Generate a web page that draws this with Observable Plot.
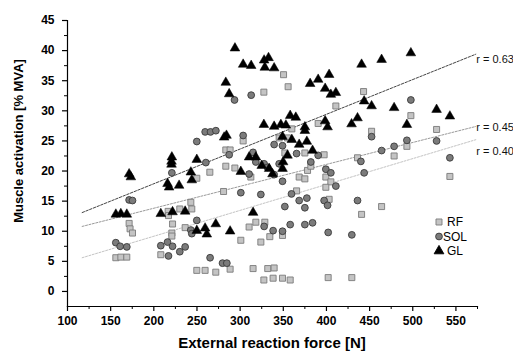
<!DOCTYPE html>
<html>
<head>
<meta charset="utf-8">
<script src="https://cdn.jsdelivr.net/npm/d3@7"></script>
<script src="https://cdn.jsdelivr.net/npm/@observablehq/plot@0.6"></script>
<style>
  html, body { margin: 0; padding: 0; background: #fff; }
  #chart { width: 513px; height: 354px; }
</style>
</head>
<body>
<div id="chart"></div>
<script>
// ---- data ----
const gl_x = [294,303.5,312.8,327.8,332.9,328.6,339.4,283.4,287.3,327.5,281.5,284.2,220.9,249.8,310.4,318.2,
  381.1,390.4,403.1,398.5,405.1,410.9,440.7,463.9,497.8,443.7,452.3,478.4,527.6,543,358,364.5,398.5,401.3,429.1,436,493.2,
  339.4,347.2,353,375,375,349.1,359.9,368.4,377.3,383.9,
  220.5,220.5,242.9,244,300.8,325,171.4,173.4,215.9,217.7,229.3,156,161.8,168.7,208.1,221.7,236.3,249.8,259.4,261.4,271.8,288.4,315,
  354.9,349.8,349.1,333.6,337.5];
const gl_y = [40.4,37.7,37.5,38.4,38.8,37.2,37.1,34.7,32.8,27.7,25.6,25.9,22.3,21.9,22.3,22.3,
  34.5,35.2,36.0,33.7,32.7,33.0,37.7,38.5,39.6,31.6,30.8,30.5,30.2,29.1,29.2,28.9,28.3,27.3,27.8,28.8,27.7,
  27.4,27.7,27.6,27.3,26.7,25.7,25.2,24.4,24.9,23.4,
  21.6,21.1,19.8,18.5,19.9,20.9,19.5,19.0,17.9,17.3,17.6,12.8,12.9,12.8,12.9,13.2,13.3,10.1,10.5,9.5,11.2,10.0,13.1,
  22.6,21.5,20.4,20.4,19.5];

const sol_x = [293.5,312.8,259.5,265.7,271.9,249.8,303.5,315,287.3,
  497.8,452.3,527.6,493.2,463.9,478.4,543,339.4,349.1,365.4,390.4,
  260.3,220.9,310.4,318.2,327.8,331.7,300.8,324,171.4,175.3,156,161,168.7,249.8,242.9,244,327.8,208.1,215.9,221.7,236.3,230.1,217,265.2,279.6,284.6,
  339.4,349.1,345.2,381.9,399.3,405.1,410.9,443.7,439.9,
  359.5,368.4,377.3,351.8,375,397.3,401.3,436,
  338.2,349.1,358,375,383.9,402,429.4];
const sol_y = [31.8,32.6,26.5,26.5,26.7,24.9,25.9,23.1,22.7,
  31.8,25.7,25.0,25.1,23.4,24.1,22.2,24.4,24.2,22.9,22.6,
  21.4,19.7,19.5,21.5,21.2,20.6,16.4,16.1,15.2,15.1,8.1,7.5,7.4,11.8,10.2,9.6,10.8,7.6,8.2,7.5,7.4,6.6,5.9,5.6,4.7,4.7,
  19.4,18.3,21.2,21.5,20.3,19.7,17.5,19.7,21.6,
  16.2,15.1,15.5,14.1,13.9,15.1,14.3,15.1,
  10.1,10.0,11.1,11.1,11.4,9.8,9.4];

const rf_x = [327.5,303.5,283.4,288.4,350.3,355.6,443,410.9,497.8,452.3,527.6,493.2,478.4,359.9,390.4,345.2,354.9,375,397.3,351.8,
  249.8,264.9,283.4,293.9,312.4,280.8,171.4,172.5,175.3,156,161.8,168.7,216.6,217,230.1,242.9,244,221.7,220.9,220.9,236.3,300.8,310.4,318.2,328.6,324,208.1,
  249.8,259.4,271.8,288.4,315,332,327.5,
  378.1,381.9,368.4,375,399.3,405.1,399.3,436,543,365.4,403.1,463.9,440.7,334.4,349.1,339.4,338.2,349.1,358,402,429.4];
const rf_y = [33.1,25.0,23.5,23.5,36.0,34.0,33.2,30.8,29.2,26.6,26.9,24.1,22.5,27.0,27.9,25.5,25.5,23.0,22.7,23.0,
  18.8,19.8,20.8,20.5,19.0,16.6,11.3,10.4,9.7,5.6,5.7,5.7,13.3,12.6,13.7,14.8,13.7,11.2,9.7,9.2,10.6,8.5,10.7,11.5,11.5,8.2,6.1,
  3.5,3.5,3.2,3.7,3.8,3.8,1.9,
  20.1,20.8,19.0,18.7,19.0,18.2,17.3,22.2,19.1,16.7,15.3,14.1,12.8,9.1,9.3,3.9,2.2,2.2,1.9,2.3,2.3];

// regression lines (endpoints)
const fit_x = [117, 573];
const gl_fit = [13.1, 39.4];
const sol_fit = [10.8, 27.4];
const rf_fit = [5.6, 25.2];
const r_labels = ["r = 0.63", "r = 0.45", "r = 0.40"];
const r_label_y = [38.5, 27.2, 23.3];

const series = ["RF", "SOL", "GL"];
const x_ticks = [100,150,200,250,300,350,400,450,500,550];
const x_minor = [125,175,225,275,325,375,425,475,525,575];
const y_ticks = [0,5,10,15,20,25,30,35,40,45];
const y_minor = [2.5,7.5,12.5,17.5,22.5,27.5,32.5,37.5,42.5];

const xTitle = "External reaction force [N]";
const yTitle = "Muscle activation [% MVA]";

// ---- build tables ----
const toPts = (xs, ys) => xs.map((x, i) => ({x, y: ys[i]}));
const rf = toPts(rf_x, rf_y), sol = toPts(sol_x, sol_y), gl = toPts(gl_x, gl_y);
const fitLine = ys => fit_x.map((x, i) => ({x, y: ys[i]}));
const labels = r_labels.map((t, i) => ({x: fit_x[1], y: r_label_y[i], t}));

const FONT = "'Liberation Sans', Arial, Helvetica, sans-serif";

const plot = Plot.plot({
  width: 513,
  height: 354,
  marginLeft: 67,
  marginRight: 36,
  marginTop: 20,
  marginBottom: 48,
  style: {fontFamily: FONT, fontSize: "12px", background: "#fff", color: "#000", overflow: "visible"},
  x: {domain: [100, 575]},
  y: {domain: [-2.5, 45]},
  marks: [
    Plot.frame({anchor: "bottom", stroke: "#000", strokeWidth: 1.2}),
    Plot.frame({anchor: "left", stroke: "#000", strokeWidth: 1.2}),
    Plot.axisX({ticks: x_ticks, tickSize: 5, tickPadding: 5, label: null, fontWeight: "bold", fontSize: 12, strokeWidth: 1.2}),
    Plot.axisX({ticks: x_minor, tickSize: 3, text: null, label: null}),
    Plot.axisY({ticks: y_ticks, tickSize: 5, tickPadding: 8, label: null, fontWeight: "bold", fontSize: 12, strokeWidth: 1.2}),
    Plot.axisY({ticks: y_minor, tickSize: 3, text: null, label: null}),
    Plot.line(fitLine(gl_fit), {x: "x", y: "y", stroke: "#444", strokeWidth: 1, strokeDasharray: "2.5,1.5"}),
    Plot.line(fitLine(sol_fit), {x: "x", y: "y", stroke: "#9a9a9a", strokeWidth: 1, strokeDasharray: "2,1.5"}),
    Plot.line(fitLine(rf_fit), {x: "x", y: "y", stroke: "#c4c4c4", strokeWidth: 1, strokeDasharray: "2,1.5"}),
    Plot.dot(rf, {x: "x", y: "y", symbol: "square", r: 3.4, fill: "#c4c4c4", stroke: "#7a7a7a", strokeWidth: 0.9}),
    Plot.dot(sol, {x: "x", y: "y", symbol: "circle", r: 3.4, fill: "#7b7b7b", stroke: "#3a3a3a", strokeWidth: 0.9}),
    Plot.dot(gl, {x: "x", y: "y", symbol: "triangle", r: 3.6, fill: "#000", stroke: "#000", strokeWidth: 0.5}),
    Plot.text(labels, {x: "x", y: "y", text: "t", textAnchor: "start", dx: 0.5, fontSize: 11, fill: "#111"})
  ]
});
document.getElementById("chart").appendChild(plot);

// titles and legend
const svg = d3.select(plot);
svg.append("text").text(xTitle)
  .attr("x", 272).attr("y", 348)
  .attr("text-anchor", "middle")
  .style("font-family", FONT).style("font-weight", "bold").style("font-size", "15px");
svg.append("text").text(yTitle)
  .attr("transform", "translate(23,141) rotate(-90)")
  .attr("text-anchor", "middle")
  .style("font-family", FONT).style("font-weight", "bold").style("font-size", "13px");

const legSym = [
  {sym: d3.symbolSquare, r: 3.4, fill: "#c4c4c4", stroke: "#7a7a7a"},
  {sym: d3.symbolCircle, r: 3.4, fill: "#7b7b7b", stroke: "#3a3a3a"},
  {sym: d3.symbolTriangle, r: 3.6, fill: "#000", stroke: "#000"}
];
const lg = svg.append("g").attr("transform", "translate(439,222)");
series.forEach((name, i) => {
  const s = legSym[i];
  lg.append("path")
    .attr("d", d3.symbol(s.sym, Math.PI * s.r * s.r)())
    .attr("transform", `translate(0,${i * 14.5})`)
    .attr("fill", s.fill).attr("stroke", s.stroke).attr("stroke-width", 0.9);
  lg.append("text").text(name)
    .attr("x", 16).attr("y", i * 14.5).attr("dy", "0.35em")
    .style("font-family", FONT).style("font-size", "12px");
});
</script>
</body>
</html>
